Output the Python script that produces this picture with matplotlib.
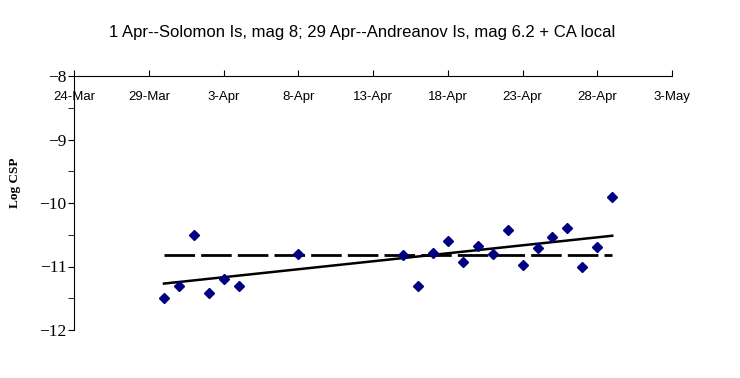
import numpy as np
import pandas as pd
import matplotlib
matplotlib.use("Agg")
import matplotlib.pyplot as plt
import matplotlib.dates as mdates
from matplotlib.ticker import FixedLocator, MultipleLocator, FuncFormatter

# данные
dates = pd.to_datetime([
    "2007-03-30", "2007-03-31", "2007-04-01", "2007-04-02", "2007-04-03",
    "2007-04-04", "2007-04-08", "2007-04-15", "2007-04-16", "2007-04-17",
    "2007-04-18", "2007-04-19", "2007-04-20", "2007-04-21", "2007-04-22",
    "2007-04-23", "2007-04-24", "2007-04-25", "2007-04-26", "2007-04-27",
    "2007-04-28", "2007-04-29",
])
log_csp = [
    -11.50, -11.31, -10.51, -11.41, -11.20, -11.31, -10.80, -10.82, -11.31,
    -10.78, -10.60, -10.93, -10.68, -10.81, -10.43, -10.98, -10.71, -10.54,
    -10.40, -11.01, -10.70, -9.91,
]
mean_level = -10.82
tick_dates = pd.date_range("2007-03-24", "2007-05-03", freq="5D")

title = "1 Apr--Solomon Is, mag 8; 29 Apr--Andreanov Is, mag 6.2 + CA local"

fig = plt.figure(figsize=(7.4, 3.78), dpi=100)
ax = fig.add_axes([74.3 / 740, 1 - 330 / 378, (672 - 74.3) / 740, (330 - 76) / 378])

x = mdates.date2num(dates)
y = np.array(log_csp)

# средний уровень - пунктир
ax.plot([x[0], x[-1]], [mean_level, mean_level], color="black", lw=2.0,
        dashes=(11, 2.2), zorder=2)
# линейный тренд
k, b = np.polyfit(x, y, 1)
ax.plot([x[0], x[-1]], [k * x[0] + b, k * x[-1] + b], color="black", lw=1.8, zorder=2)
ax.plot(x, y, linestyle="none", marker="D", ms=4.6, color="#000080", zorder=3)

ax.set_xlim(mdates.date2num(tick_dates[0]), mdates.date2num(tick_dates[-1]))
ax.set_ylim(-12, -8)

# ось x проходит по y=-8 (сверху)
ax.spines["bottom"].set_position(("data", -8))
ax.spines["top"].set_visible(False)
ax.spines["right"].set_visible(False)
ax.xaxis.set_major_locator(FixedLocator(mdates.date2num(tick_dates)))
ax.xaxis.set_major_formatter(FuncFormatter(
    lambda v, _: "%d-%s" % (mdates.num2date(v).day, mdates.num2date(v).strftime("%b"))))
ax.tick_params(axis="x", direction="in", length=4, pad=11, labelsize=9.5)
for lab in ax.get_xticklabels():
    lab.set_family("Liberation Sans")

ax.yaxis.set_major_locator(MultipleLocator(1))
ax.yaxis.set_minor_locator(MultipleLocator(0.5))
ax.tick_params(axis="y", which="both", direction="out", length=4, pad=1.5, labelsize=12.5)
for lab in ax.get_yticklabels():
    lab.set_family("Liberation Serif")

fig.text(15 / 740, 1 - 183 / 378, "Log CSP", rotation=90, ha="center", va="center",
         family="Liberation Serif", fontweight="bold", fontsize=9.5)
fig.text(362 / 740, 1 - 33 / 378, title, ha="center", va="center",
         family="Liberation Sans", fontsize=12)

fig.savefig("out.png", dpi=100)
